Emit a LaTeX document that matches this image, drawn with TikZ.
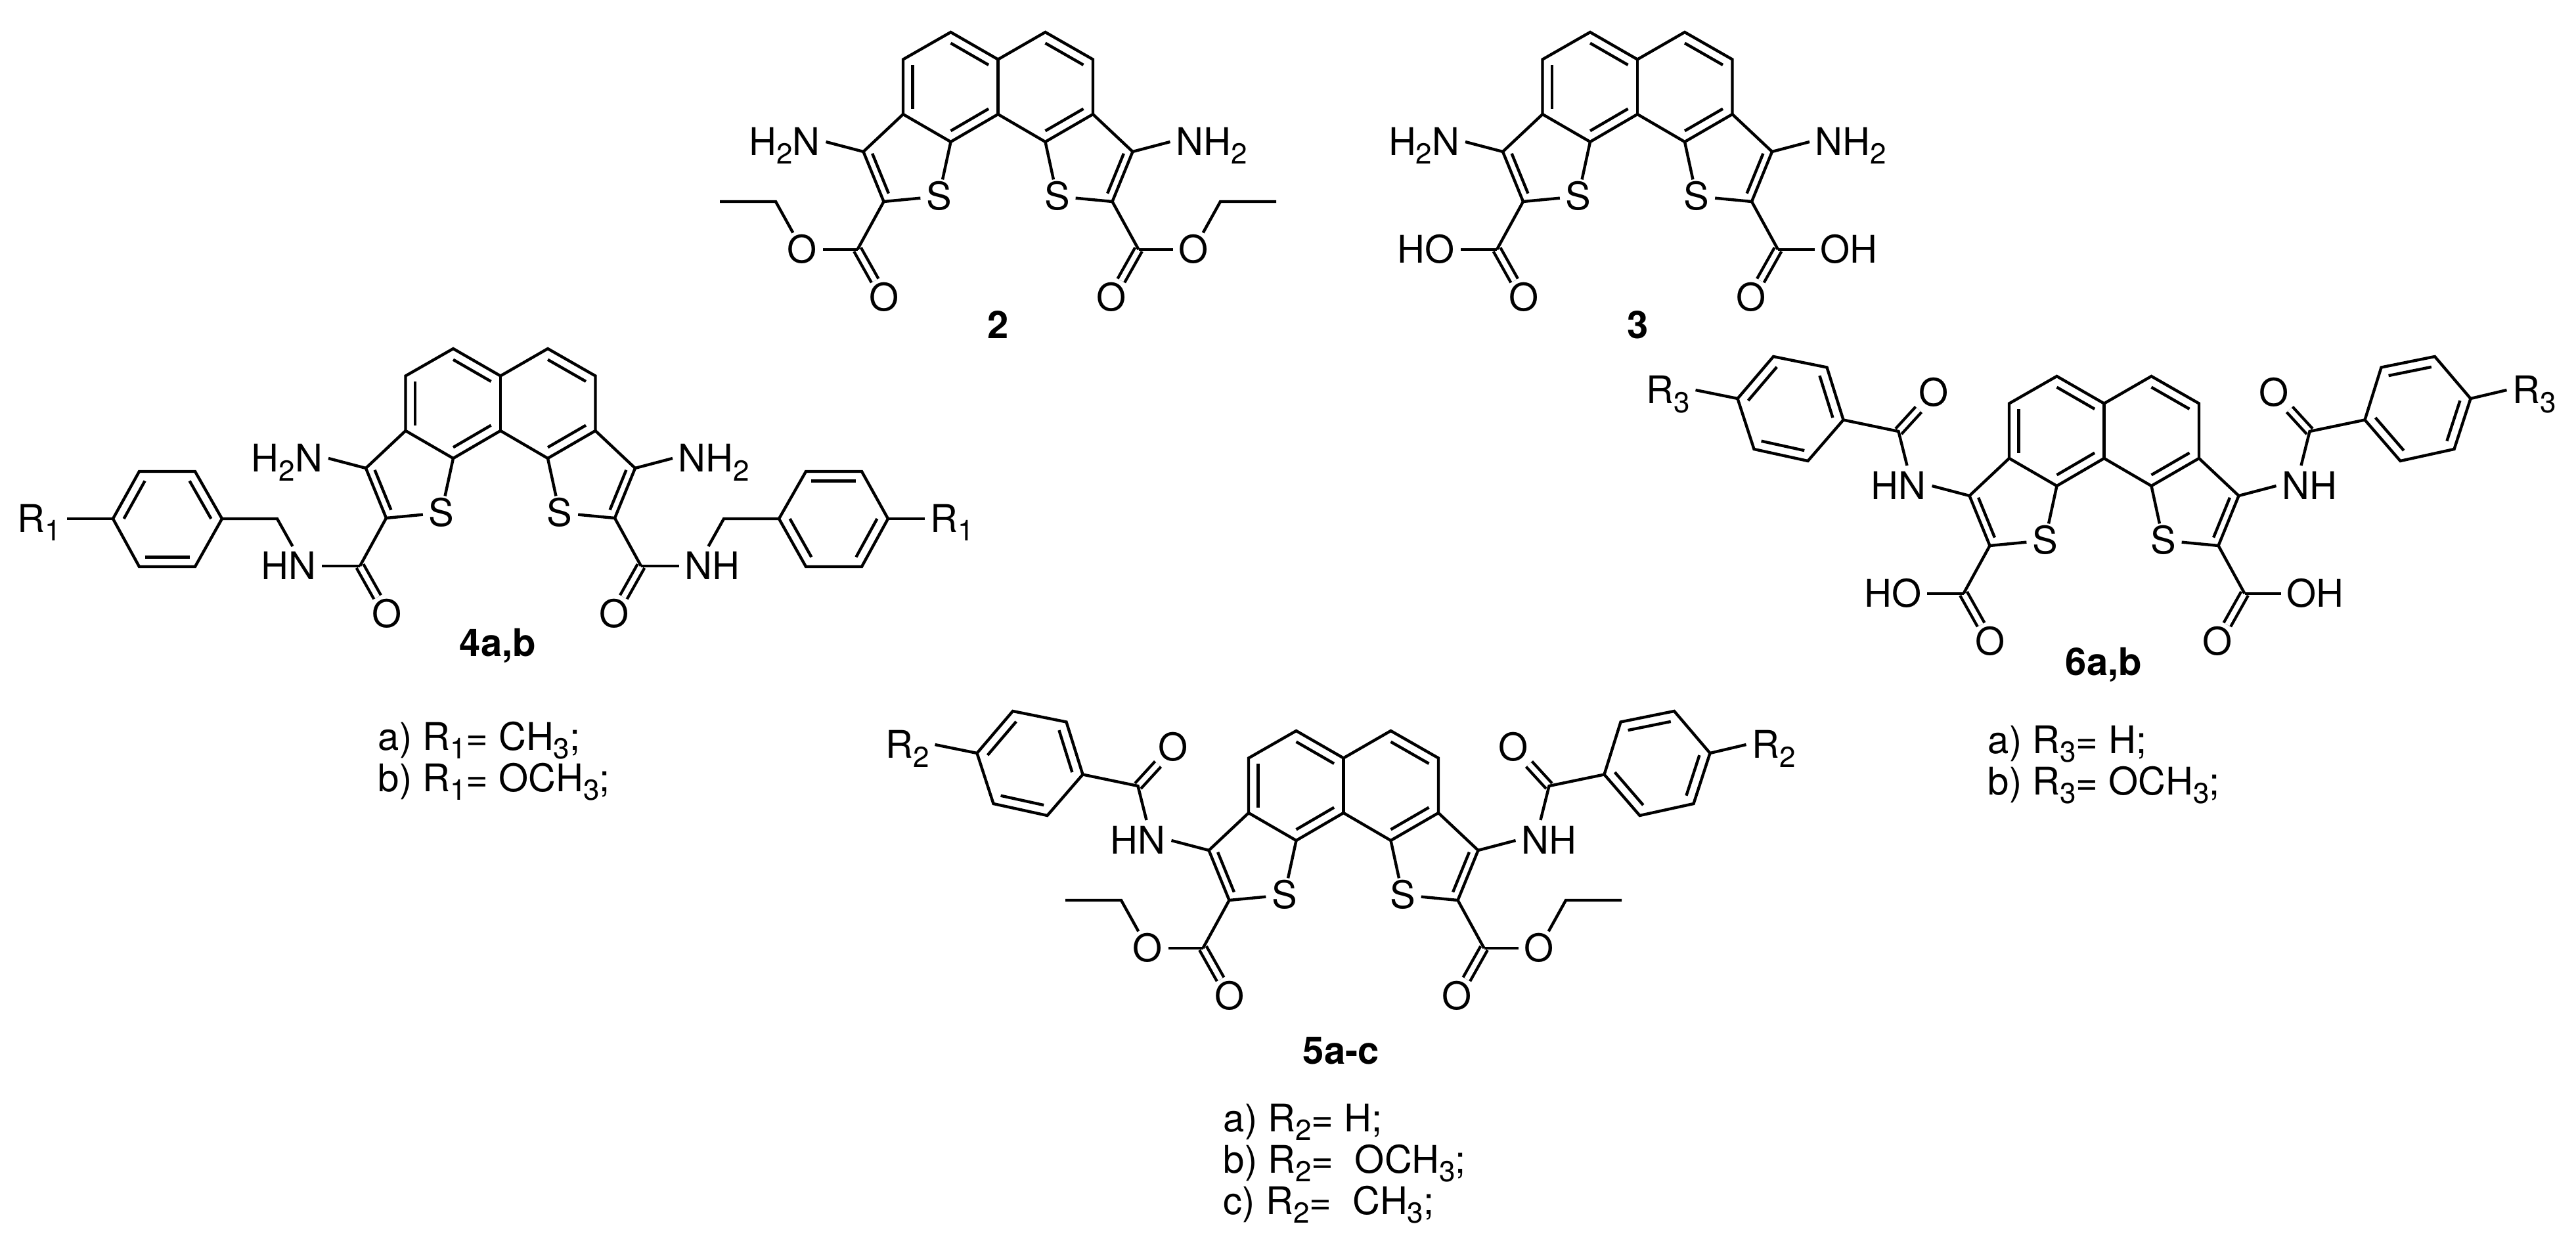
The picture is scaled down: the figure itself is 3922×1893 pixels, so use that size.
\documentclass[tikz,border=0pt]{standalone}
\usepackage{fontspec}
\setmainfont{TeX Gyre Heros}
\usetikzlibrary{calc}

\newcommand{\subn}[1]{\raisebox{-3.3pt}{\fontsize{11}{11}\selectfont #1}}
\tikzset{
  bond/.style={line width=1.1pt,line join=miter},
  dbond/.style={line width=1.1pt,double,double distance=1.9pt},
  atom/.style={inner xsep=2pt,inner ysep=1pt,text height=10.4pt,text depth=0pt,font=\fontsize{14.5}{16}\selectfont},
  compound/.style={inner sep=0pt,font=\fontsize{14.5}{16}\selectfont\bfseries},
  sublist/.style={inner sep=0pt,anchor=north west,align=left,font=\fontsize{14.5}{15.8}\selectfont}
}
\newcommand{\innerbond}[3]{\draw[bond] ($(#1)!.2!(#3)$) -- ($(#2)!.2!(#3)$);}

\newcommand{\corering}[1]{
\coordinate (#1ca) at (0,41.5);
\coordinate (#1cb) at (0,125);
\foreach \sd/\sg in {l/-1,r/1} {
  \coordinate (#1\sd t) at (\sg*72,0);
  \coordinate (#1\sd u) at (\sg*144.5,41.5);
  \coordinate (#1\sd o) at (\sg*144.5,125);
  \coordinate (#1\sd b) at (\sg*72,167);
  \coordinate (#1\sd k) at (\sg*72,83.5);
  \coordinate (#1\sd h) at (\sg*137,196);
  \coordinate (#1\sd c3) at (\sg*205,182);
  \coordinate (#1\sd c2) at (\sg*174,258);
  \node[atom] (#1\sd s) at (\sg*90,250) {S};
  \draw[bond] (#1\sd o) -- (#1\sd c3) -- (#1\sd c2) -- (#1\sd s);
  \draw[bond] (#1\sd b) -- (#1\sd s);
  \innerbond{#1\sd c3}{#1\sd c2}{#1\sd h}
}
\draw[bond] (#1lu) -- (#1lt) -- (#1ca) -- (#1rt) -- (#1ru) -- (#1ro) -- (#1rb) -- (#1cb) -- (#1lb) -- (#1lo) -- cycle;
\draw[bond] (#1ca) -- (#1cb);
\innerbond{#1lu}{#1lo}{#1lk}
\innerbond{#1lt}{#1ca}{#1lk}
\innerbond{#1lb}{#1cb}{#1lk}
\innerbond{#1rt}{#1ru}{#1rk}
\innerbond{#1rb}{#1ro}{#1rk}
}
\newcommand{\amine}[4]{
\begin{scope}[xscale=#2]
\node[atom,anchor=#3] (#1nh) at (262,167) {#4};
\draw[bond] (#1c3) -- (#1nh.#3);
\end{scope}
}
\newcommand{\carbonyl}[2]{
\begin{scope}[xscale=#2]
\coordinate (#1c) at (214,331);
\node[atom] (#1d) at (173,404) {O};
\draw[dbond] (#1c) -- (#1d);
\draw[bond] (#1c2) -- (#1c);
\end{scope}
}
\newcommand{\ethoxy}[2]{
\begin{scope}[xscale=#2]
\node[atom] (#1oe) at (298,331) {O};
\coordinate (#1ea) at (338.5,258);
\coordinate (#1eb) at (423.5,258);
\draw[bond] (#1c) -- (#1oe);
\draw[bond] (#1oe) -- (#1ea) -- (#1eb);
\end{scope}
}
\newcommand{\hydroxy}[4]{
\begin{scope}[xscale=#2]
\node[atom,anchor=#3] (#1oh) at (269.5,331) {#4};
\draw[bond] (#1c) -- (#1oh.#3);
\end{scope}
}
% ring: prefix, vertices, centre, double bonds
\newcommand{\hexring}[4]{
\foreach \n/\px/\py in {#2} {\coordinate (#1v\n) at (\px,\py);}
\coordinate (#1vc) at (#3);
\draw[bond] (#1v1) -- (#1v2) -- (#1v3) -- (#1v4) -- (#1v5) -- (#1v6) -- cycle;
\foreach \p/\q in {#4} {\innerbond{#1v\p}{#1v\q}{#1vc}}
}
\newcommand{\benzamide}[8]{
\begin{scope}[xscale=#2]
\node[atom,anchor=#3] (#1nh) at (262,167) {#4};
\coordinate (#1a) at (313,84);
\coordinate (#1nt) at (300,136);
\node[atom] (#1ao) at (259,25) {O};
\hexring{#1}{1/397/66.5,2/422/-13.5,3/503.5/-30,4/558/34,5/533/111,6/451/129}{477.5,49.5}{#8}
\node[atom,anchor=#5] (#1rg) at (#6,21) {#7};
\draw[dbond] (#1a) -- (#1ao);
\draw[bond] (#1c3) -- (#1nh.#3);
\draw[bond] (#1nt) -- (#1a) -- (#1v1);
\draw[bond] (#1v4) -- (#1rg.#5);
\end{scope}
}
\newcommand{\benzylamide}[8]{
\begin{scope}[xscale=#2]
\node[atom,anchor=#3] (#1nh) at (272,331) {#4};
\coordinate (#1bn) at (340,259);
\coordinate (#1nt) at (316.5,301);
\hexring{#1}{1/424/259,2/465/187,3/550/187,4/590/259,5/550/332,6/465/332}{507,259}{#8}
\node[atom,anchor=#5] (#1rg) at (#6,259) {#7};
\draw[bond] (#1c) -- (#1nh.#3);
\draw[bond] (#1nt) -- (#1bn) -- (#1v1);
\draw[bond] (#1v4) -- (#1rg.#5);
\end{scope}
}

\begin{document}
\begin{tikzpicture}[x=0.25pt,y=-0.25pt]
\useasboundingbox (0,0) rectangle (3922,1893);

\begin{scope}[shift={(1519.5,49)}]
\corering{mb}
\amine{mbl}{-1}{east}{H\subn{2}N}
\amine{mbr}{1}{west}{NH\subn{2}}
\foreach \sd/\sg in {l/-1,r/1} {\carbonyl{mb\sd}{\sg} \ethoxy{mb\sd}{\sg}}
\end{scope}
\node[compound] (nameb) at (1519.5,495) {2};

\begin{scope}[shift={(2493,49)}]
\corering{mc}
\amine{mcl}{-1}{east}{H\subn{2}N}
\amine{mcr}{1}{west}{NH\subn{2}}
\foreach \sd/\sg in {l/-1,r/1} {\carbonyl{mc\sd}{\sg}}
\hydroxy{mcl}{-1}{east}{HO}
\hydroxy{mcr}{1}{west}{OH}
\end{scope}
\node[compound] (namec) at (2494,495) {3};

\begin{scope}[shift={(762,531)}]
\corering{md}
\amine{mdl}{-1}{east}{H\subn{2}N}
\amine{mdr}{1}{west}{NH\subn{2}}
\foreach \sd/\sg in {l/-1,r/1} {\carbonyl{md\sd}{\sg}}
\benzylamide{mdl}{-1}{east}{HN}{east}{660}{R\subn{1}}{3/4,2/1,5/6}
\benzylamide{mdr}{1}{west}{NH}{west}{646}{R\subn{1}}{2/3,1/6,4/5}
\end{scope}
\node[compound] (named) at (758,983) {4a,b};
\node[sublist] (listd) at (575,1098) {a) R\subn{1}= CH\subn{3};\\b) R\subn{1}= OCH\subn{3};};

\begin{scope}[shift={(2045.5,1113)}]
\corering{me}
\foreach \sd/\sg in {l/-1,r/1} {\carbonyl{me\sd}{\sg} \ethoxy{me\sd}{\sg}}
\benzamide{mel}{-1}{east}{HN}{east}{622}{R\subn{2}}{3/4,2/1,5/6}
\benzamide{mer}{1}{west}{NH}{west}{613}{R\subn{2}}{2/3,1/6,4/5}
\end{scope}
\node[compound] (namee) at (2042,1600) {5a-c};
\node[sublist] (liste) at (1862,1680) {a) R\subn{2}= H;\\b) R\subn{2}=~ OCH\subn{3};\\c) R\subn{2}=~ CH\subn{3};};

\begin{scope}[shift={(3203.5,573)}]
\corering{mf}
\foreach \sd/\sg in {l/-1,r/1} {\carbonyl{mf\sd}{\sg}}
\hydroxy{mfl}{-1}{east}{HO}
\hydroxy{mfr}{1}{west}{OH}
\benzamide{mfl}{-1}{east}{HN}{east}{622}{R\subn{3}}{3/4,2/1,5/6}
\benzamide{mfr}{1}{west}{NH}{west}{613}{R\subn{3}}{2/3,1/6,4/5}
\end{scope}
\node[compound] (namef) at (3203,1012) {6a,b};
\node[sublist] (listf) at (3026,1104) {a) R\subn{3}= H;\\b) R\subn{3}= OCH\subn{3};};
\end{tikzpicture}
\end{document}
